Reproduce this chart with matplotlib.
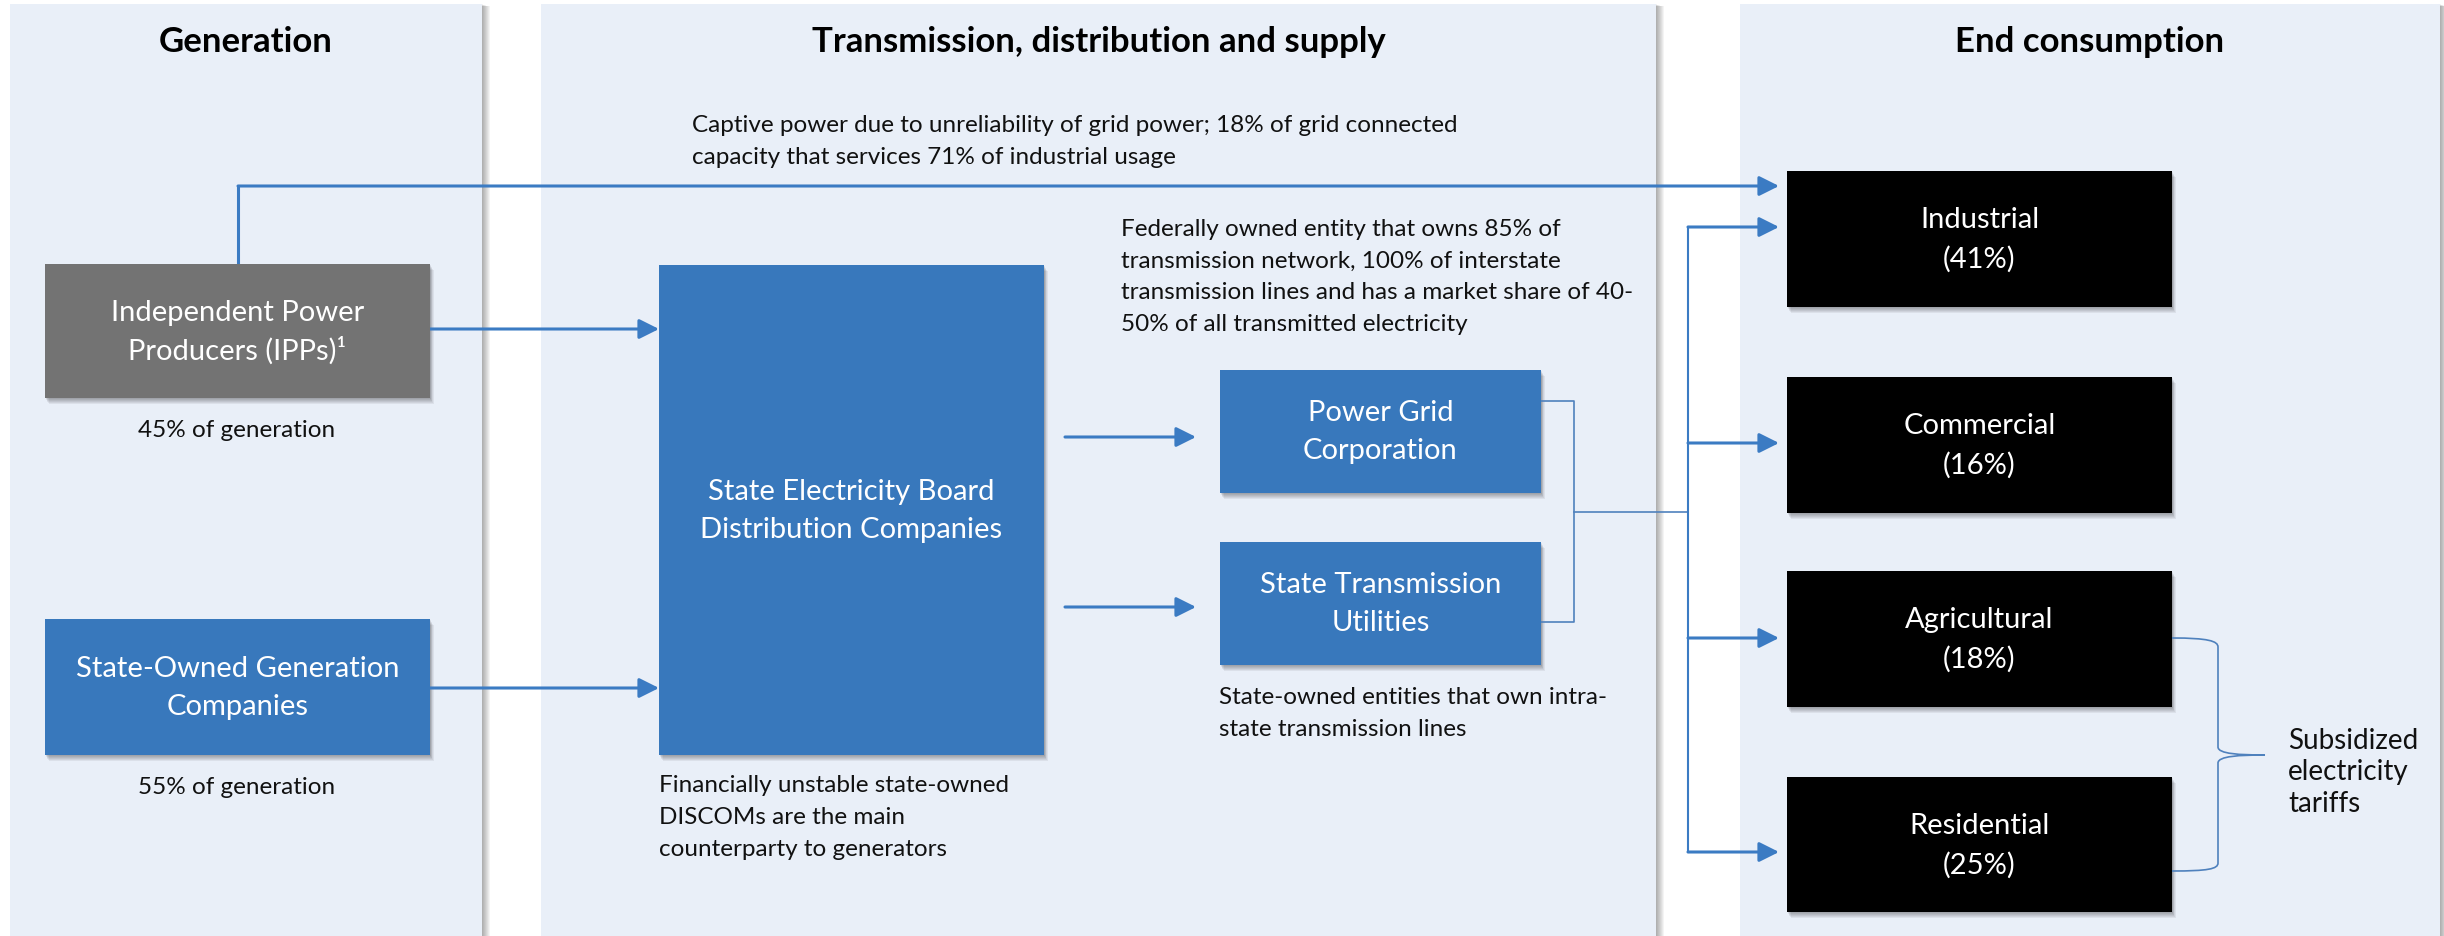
import matplotlib.pyplot as plt
from matplotlib.patches import Rectangle, PathPatch
from matplotlib.path import Path

plt.rcParams['font.family'] = ['Lato', 'DejaVu Sans']

# --- content -------------------------------------------------------------
stages = ["Generation", "Transmission, distribution and supply", "End consumption"]

gen_boxes = [["Independent Power", "Producers (IPPs)\u00b9"],
             ["State-Owned Generation", "Companies"]]
gen_share = [45, 55]

seb_label = ["State Electricity Board", "Distribution Companies"]
trans_boxes = [["Power Grid", "Corporation"], ["State Transmission", "Utilities"]]

end_use = ["Industrial", "Commercial", "Agricultural", "Residential"]
end_share = [41, 16, 18, 25]

captive_note = ["Captive power due to unreliability of grid power; 18% of grid connected",
                "capacity that services 71% of industrial usage"]
pgcil_note = ["Federally owned entity that owns 85% of",
              "transmission network, 100% of interstate",
              "transmission lines and has a market share of 40-",
              "50% of all transmitted electricity"]
stu_note = ["State-owned entities that own intra-",
            "state transmission lines"]
discom_note = ["Financially unstable state-owned",
               "DISCOMs are the main",
               "counterparty to generators"]
subsidy_note = ["Subsidized", "electricity", "tariffs"]

# --- styles --------------------------------------------------------------
panel_c = '#E9EFF8'
blue = '#3878BC'
arrow_c = '#3B7BC3'
thin_c = '#4F81BD'
grey = '#737373'
body_fs = 17.5
box_fs = 21
head_fs = 25

W, H = 2444, 937
fig = plt.figure(figsize=(W / 100, H / 100), dpi=100)
ax = fig.add_axes([0, 0, 1, 1])
ax.set_xlim(0, W)
ax.set_ylim(H, 0)
ax.axis('off')


def shadow(x0, y0, x1, y1, n=6, alpha=0.06, z=2):
    for s in range(1, n + 1):
        ax.add_patch(Rectangle((x0 + s * 0.6, y0 + s), x1 - x0, y1 - y0,
                               fc='black', ec='none', alpha=alpha, zorder=z))


def box(x0, y0, x1, y1, lines, fc, step=38):
    shadow(x0, y0, x1, y1)
    ax.add_patch(Rectangle((x0, y0), x1 - x0, y1 - y0, fc=fc, ec='none', zorder=4))
    cx, cy = (x0 + x1) / 2, (y0 + y1) / 2
    first = cy - (len(lines) - 1) * step / 2
    for i, t in enumerate(lines):
        ax.text(cx, first + i * step, t, ha='center', va='center',
                color='white', fontsize=box_fs, zorder=5)


def note(lines, x, y_first, step=32, ha='left', fs=body_fs):
    for i, t in enumerate(lines):
        ax.text(x, y_first + i * step, t, ha=ha, va='center',
                color='#111111', fontsize=fs, zorder=5)


def arrow(x0, y, x1):
    ax.annotate("", xy=(x1, y), xytext=(x0, y), zorder=3,
                arrowprops=dict(arrowstyle="-|>,head_length=0.6,head_width=0.3",
                                color=arrow_c, lw=2.2, shrinkA=0, shrinkB=0,
                                mutation_scale=20))


# --- panels --------------------------------------------------------------
panel_x = [(10, 482), (541, 1656), (1740, 2440)]
for (x0, x1), title in zip(panel_x, stages):
    for s in range(1, 9):
        ax.add_patch(Rectangle((x0 + s, 5 + s * 0.3), x1 - x0, H, fc='black',
                               ec='none', alpha=0.045, zorder=0))
    ax.add_patch(Rectangle((x0, 5), x1 - x0, H, fc=panel_c, ec='none', zorder=1))
    ax.text((x0 + x1) / 2, 42, title, ha='center', va='center',
            fontsize=head_fs, fontweight='bold', color='black', zorder=5)

# --- generation ----------------------------------------------------------
gen_y = [(265, 399), (620, 756)]
gen_fc = [grey, blue]
for lab, (y0, y1), fc, sh in zip(gen_boxes, gen_y, gen_fc, gen_share):
    box(45, y0, 430, y1, lab, fc)
    ax.text(237, y1 + 32, f"{sh}% of generation", ha='center', va='center',
            fontsize=body_fs, color='#111111', zorder=5)

# --- transmission / distribution ----------------------------------------
box(659, 266, 1044, 756, seb_label, blue)
note(discom_note, 659, 786)

trans_y = [(371, 494), (543, 666)]
for lab, (y0, y1) in zip(trans_boxes, trans_y):
    box(1220, y0, 1541, y1, lab, blue)
note(pgcil_note, 1121, 229)
note(stu_note, 1219, 698)
note(captive_note, 692, 125)

# flows into the distribution companies
arrow(430, 330, 659)
arrow(430, 689, 659)
arrow(1065, 438, 1196)
arrow(1065, 608, 1196)

# captive power straight to industry
ax.plot([238, 238], [265, 187], color=arrow_c, lw=2.2, zorder=3, solid_capstyle='butt')
arrow(238, 187, 1779)

# grid bracket joining transmission entities
ax.plot([1541, 1574, 1574, 1541], [402, 402, 623, 623], color=thin_c, lw=1.2, zorder=3)
ax.plot([1574, 1688], [513, 513], color=thin_c, lw=1.2, zorder=3)

# --- end consumption -----------------------------------------------------
end_y = [(172, 308), (378, 514), (572, 708), (778, 913)]
arrow_y = [228, 444, 639, 853]
ax.plot([1688, 1688], [arrow_y[0], arrow_y[-1]], color=arrow_c, lw=1.5, zorder=3)
for name, sh, (y0, y1), ay in zip(end_use, end_share, end_y, arrow_y):
    box(1787, y0, 2172, y1, [name, f"({sh}%)"], 'black', step=39)
    arrow(1688, ay, 1779)

# curly brace for subsidized segments
verts = [(2172, 639), (2208, 639), (2218, 642), (2218, 648),
         (2218, 748),
         (2218, 755), (2240, 756), (2265, 756),
         (2240, 756), (2218, 757), (2218, 764),
         (2218, 864),
         (2218, 870), (2208, 872), (2172, 872)]
codes = [Path.MOVETO, Path.CURVE4, Path.CURVE4, Path.CURVE4,
         Path.LINETO,
         Path.CURVE4, Path.CURVE4, Path.CURVE4,
         Path.CURVE4, Path.CURVE4, Path.CURVE4,
         Path.LINETO,
         Path.CURVE4, Path.CURVE4, Path.CURVE4]
ax.add_patch(PathPatch(Path(verts, codes), fc='none', ec=thin_c, lw=1.2, zorder=3))
note(subsidy_note, 2288, 741, step=31.5, fs=20)

fig.savefig('out.png', dpi=100, facecolor='white')
